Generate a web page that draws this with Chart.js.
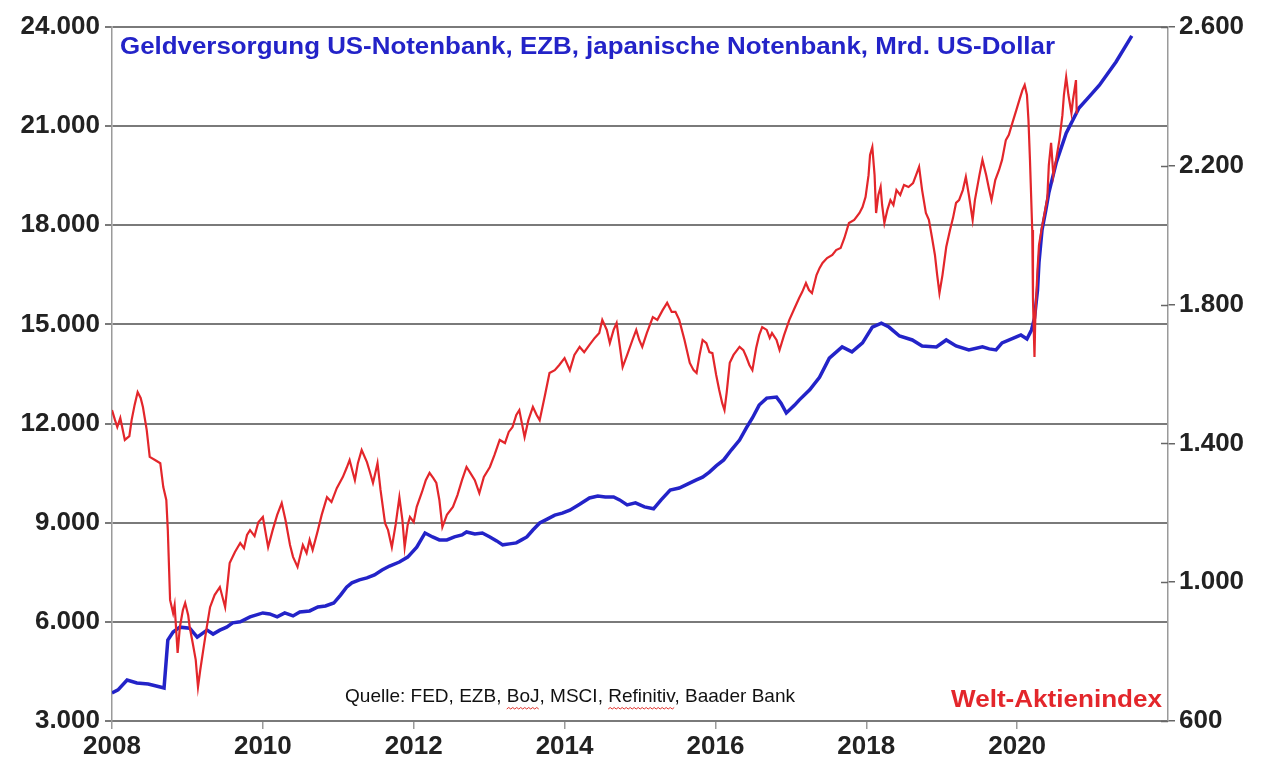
<!DOCTYPE html>
<html>
<head>
<meta charset="utf-8">
<script src="https://cdn.jsdelivr.net/npm/chart.js@4.4.1/dist/chart.umd.min.js"></script>
<style>
  html, body { margin: 0; padding: 0; background: #fff; }
  canvas { display: block; }
</style>
</head>
<body>
<canvas id="chart" width="1270" height="766"></canvas>
<script>
// Geldversorgung (linke Achse, Mrd. US-Dollar)
var moneyYears = [
  2008.00, 2008.08, 2008.20, 2008.33, 2008.48, 2008.64, 2008.69, 2008.74, 2008.81, 2008.90,
  2009.03, 2009.13, 2009.26, 2009.34, 2009.43, 2009.52, 2009.60, 2009.70, 2009.83, 2010.00,
  2010.09, 2010.19, 2010.29, 2010.40, 2010.49, 2010.62, 2010.73, 2010.83, 2010.94, 2011.03,
  2011.11, 2011.18, 2011.28, 2011.38, 2011.48, 2011.58, 2011.68, 2011.81, 2011.92, 2012.04,
  2012.15, 2012.25, 2012.34, 2012.44, 2012.54, 2012.64, 2012.70, 2012.81, 2012.91, 2013.01,
  2013.10, 2013.18, 2013.27, 2013.36, 2013.43, 2013.50, 2013.58, 2013.67, 2013.77, 2013.87,
  2013.97, 2014.07, 2014.20, 2014.33, 2014.44, 2014.54, 2014.65, 2014.73, 2014.83, 2014.94,
  2015.06, 2015.18, 2015.28, 2015.40, 2015.52, 2015.63, 2015.74, 2015.83, 2015.92, 2016.01,
  2016.11, 2016.21, 2016.32, 2016.41, 2016.49, 2016.58, 2016.68, 2016.81, 2016.87, 2016.94,
  2017.05, 2017.11, 2017.25, 2017.38, 2017.51, 2017.68, 2017.81, 2017.95, 2018.08, 2018.20,
  2018.30, 2018.44, 2018.61, 2018.74, 2018.93, 2019.06, 2019.19, 2019.36, 2019.54, 2019.63,
  2019.72, 2019.80, 2019.99, 2020.05, 2020.13, 2020.19, 2020.23, 2020.27, 2020.29, 2020.33,
  2020.38, 2020.42, 2020.52, 2020.65, 2020.82, 2020.95, 2021.09, 2021.31, 2021.52
];
var moneyValues = [
  3850, 3940, 4240, 4150, 4120, 4030, 4000, 5450, 5690, 5840,
  5810, 5540, 5750, 5630, 5750, 5840, 5970, 6000, 6150, 6270,
  6240, 6150, 6270, 6180, 6300, 6330, 6450, 6480, 6570, 6810,
  7050, 7180, 7270, 7330, 7420, 7570, 7690, 7810, 7960, 8260,
  8690, 8570, 8480, 8480, 8570, 8630, 8720, 8660, 8690, 8570,
  8450, 8330, 8360, 8390, 8480, 8570, 8780, 8990, 9110, 9230,
  9290, 9380, 9560, 9750, 9810, 9780, 9780, 9690, 9540, 9600,
  9480, 9420, 9690, 9990, 10050, 10170, 10290, 10380, 10530, 10720,
  10900, 11200, 11500, 11870, 12170, 12560, 12770, 12800, 12620, 12320,
  12560, 12710, 13020, 13400, 13980, 14320, 14170, 14440, 14920, 15040,
  14920, 14650, 14530, 14350, 14320, 14530, 14350, 14230, 14320, 14260,
  14230, 14440, 14620, 14680, 14560, 14830, 15190, 16040, 16890, 17860,
  18460, 18980, 19910, 20790, 21550, 21880, 22240, 22940, 23730
];

// Welt-Aktienindex (rechte Achse)
var stockYears = [
  2008.00, 2008.04, 2008.07, 2008.11, 2008.17, 2008.23, 2008.26, 2008.30, 2008.34, 2008.38,
  2008.41, 2008.46, 2008.50, 2008.57, 2008.64, 2008.68, 2008.72, 2008.74, 2008.77, 2008.81,
  2008.83, 2008.87, 2008.90, 2008.94, 2008.97, 2009.01, 2009.03, 2009.07, 2009.11, 2009.14,
  2009.17, 2009.21, 2009.25, 2009.30, 2009.36, 2009.43, 2009.50, 2009.56, 2009.63, 2009.70,
  2009.75, 2009.79, 2009.83, 2009.89, 2009.94, 2010.00, 2010.07, 2010.13, 2010.19, 2010.25,
  2010.30, 2010.36, 2010.40, 2010.46, 2010.53, 2010.58, 2010.62, 2010.66, 2010.73, 2010.78,
  2010.85, 2010.91, 2010.98, 2011.06, 2011.11, 2011.15, 2011.22, 2011.26, 2011.31, 2011.38,
  2011.42, 2011.46, 2011.50, 2011.52, 2011.56, 2011.62, 2011.66, 2011.71, 2011.76, 2011.81,
  2011.85, 2011.88, 2011.92, 2011.95, 2012.00, 2012.04, 2012.11, 2012.16, 2012.21, 2012.26,
  2012.30, 2012.34, 2012.38, 2012.44, 2012.52, 2012.58, 2012.64, 2012.70, 2012.75, 2012.81,
  2012.87, 2012.93, 2013.01, 2013.07, 2013.14, 2013.21, 2013.26, 2013.31, 2013.36, 2013.40,
  2013.47, 2013.52, 2013.58, 2013.63, 2013.67, 2013.74, 2013.80, 2013.87, 2013.93, 2014.00,
  2014.07, 2014.13, 2014.20, 2014.26, 2014.33, 2014.40, 2014.46, 2014.50, 2014.56, 2014.60,
  2014.65, 2014.69, 2014.73, 2014.77, 2014.83, 2014.90, 2014.95, 2014.99, 2015.03, 2015.09,
  2015.17, 2015.23, 2015.30, 2015.36, 2015.42, 2015.47, 2015.52, 2015.59, 2015.66, 2015.71,
  2015.75, 2015.79, 2015.83, 2015.88, 2015.92, 2015.96, 2016.01, 2016.05, 2016.09, 2016.12,
  2016.15, 2016.19, 2016.24, 2016.32, 2016.37, 2016.41, 2016.45, 2016.49, 2016.54, 2016.58,
  2016.62, 2016.68, 2016.72, 2016.75, 2016.81, 2016.85, 2016.91, 2016.98, 2017.05, 2017.11,
  2017.15, 2017.20, 2017.24, 2017.28, 2017.34, 2017.38, 2017.42, 2017.48, 2017.55, 2017.60,
  2017.66, 2017.71, 2017.77, 2017.84, 2017.91, 2017.95, 2017.99, 2018.03, 2018.05, 2018.08,
  2018.11, 2018.13, 2018.16, 2018.19, 2018.21, 2018.24, 2018.28, 2018.32, 2018.36, 2018.40,
  2018.45, 2018.50, 2018.56, 2018.62, 2018.66, 2018.70, 2018.74, 2018.79, 2018.83, 2018.87,
  2018.91, 2018.94, 2018.97, 2019.01, 2019.06, 2019.11, 2019.15, 2019.19, 2019.23, 2019.28,
  2019.32, 2019.36, 2019.41, 2019.44, 2019.50, 2019.54, 2019.59, 2019.63, 2019.66, 2019.71,
  2019.76, 2019.80, 2019.85, 2019.89, 2019.94, 2019.99, 2020.03, 2020.07, 2020.10, 2020.13,
  2020.15, 2020.17, 2020.18, 2020.20, 2020.21, 2020.23, 2020.24, 2020.27, 2020.29, 2020.33,
  2020.36, 2020.40, 2020.42, 2020.45, 2020.48, 2020.52, 2020.56, 2020.60, 2020.62, 2020.65,
  2020.68, 2020.72, 2020.74, 2020.78, 2020.79
];
var stockValues = [
  1496, 1467, 1447, 1473, 1410, 1421, 1467, 1511, 1548, 1531,
  1505, 1439, 1361, 1352, 1343, 1274, 1237, 1150, 949, 911,
  934, 796, 871, 920, 940, 905, 871, 825, 776, 698,
  747, 805, 862, 928, 963, 986, 928, 1055, 1087, 1113,
  1098, 1136, 1150, 1133, 1173, 1188, 1101, 1150, 1194, 1228,
  1179, 1107, 1073, 1044, 1107, 1084, 1122, 1093, 1150, 1194,
  1245, 1231, 1271, 1303, 1329, 1352, 1294, 1343, 1381, 1346,
  1317, 1286, 1323, 1343, 1266, 1170, 1150, 1101, 1165, 1245,
  1179, 1101, 1165, 1188, 1173, 1217, 1260, 1294, 1315, 1300,
  1286, 1237, 1159, 1194, 1217, 1251, 1294, 1332, 1315, 1294,
  1257, 1303, 1332, 1366, 1410, 1401, 1433, 1447, 1482, 1496,
  1418, 1467, 1505, 1482, 1467, 1539, 1603, 1611, 1626, 1646,
  1611, 1655, 1678, 1663, 1684, 1704, 1718, 1756, 1727, 1689,
  1727, 1747, 1684, 1620, 1655, 1698, 1727, 1698, 1678, 1718,
  1764, 1756, 1784, 1805, 1779, 1779, 1756, 1698, 1632, 1611,
  1603, 1655, 1698, 1689, 1663, 1660, 1597, 1554, 1516, 1496,
  1548, 1632, 1655, 1678, 1669, 1649, 1626, 1611, 1675, 1712,
  1735, 1727, 1704, 1718, 1698, 1669, 1712, 1756, 1790, 1819,
  1836, 1862, 1842, 1833, 1885, 1905, 1920, 1934, 1943, 1957,
  1963, 1992, 2035, 2044, 2064, 2081, 2110, 2173, 2231, 2254,
  2173, 2064, 2116, 2139, 2087, 2035, 2073, 2101, 2087, 2130,
  2116, 2145, 2139, 2150, 2173, 2197, 2130, 2064, 2044, 1995,
  1943, 1885, 1833, 1885, 1966, 2015, 2050, 2093, 2101, 2130,
  2168, 2116, 2044, 2101, 2173, 2217, 2173, 2130, 2101, 2159,
  2188, 2217, 2274, 2289, 2326, 2361, 2390, 2418, 2433, 2404,
  2332, 2217, 2150, 2015, 1813, 1649, 1756, 1900, 1972, 2024,
  2058, 2107, 2202, 2266, 2173, 2222, 2274, 2346, 2404, 2456,
  2404, 2352, 2390, 2447, 2350
];

var leftTicks = [3000, 6000, 9000, 12000, 15000, 18000, 21000, 24000];
var rightTicks = [600, 1000, 1400, 1800, 2200, 2600];
var yearTicks = [2008, 2010, 2012, 2014, 2016, 2018, 2020];

var titleText = 'Geldversorgung US-Notenbank, EZB, japanische Notenbank, Mrd. US-Dollar';
var sourceText = 'Quelle: FED, EZB, BoJ, MSCI, Refinitiv, Baader Bank';
var stockLabel = 'Welt-Aktienindex';

var BLUE = '#2323c8';
var RED = '#e3262b';
var GRID = '#7a7a7a';
var AXIS = '#9a9a9a';
var TICK_FONT = { family: '"Liberation Sans", Arial, sans-serif', size: 26, weight: 'bold' };

function dotted(n) {
  return String(n).replace(/\B(?=(\d{3})+(?!\d))/g, '.');
}

function zip(xs, ys) {
  return xs.map(function (x, i) { return { x: x, y: ys[i] }; });
}

function stretchText(ctx, text, x, y, width) {
  var w = ctx.measureText(text).width;
  var k = width / w;
  ctx.save();
  ctx.translate(x, y);
  ctx.scale(k, 1);
  ctx.fillText(text, 0, 0);
  ctx.restore();
  return k;
}

function squiggle(ctx, x0, x1, y) {
  ctx.beginPath();
  var up = true;
  ctx.moveTo(x0, y);
  for (var x = x0 + 2; x <= x1; x += 2) {
    ctx.lineTo(x, up ? y - 1.5 : y);
    up = !up;
  }
  ctx.stroke();
}

var notesPlugin = {
  id: 'notes',
  afterDraw: function (chart) {
    var ctx = chart.ctx;
    var area = chart.chartArea;
    var y1 = chart.scales.y1;

    // kleine Striche nach innen an der rechten Achse
    ctx.save();
    ctx.strokeStyle = '#666';
    ctx.lineWidth = 1.5;
    rightTicks.forEach(function (v) {
      var py = Math.round(y1.getPixelForValue(v)) + 0.5;
      ctx.beginPath();
      ctx.moveTo(area.right - 7, py);
      ctx.lineTo(area.right, py);
      ctx.stroke();
    });
    ctx.restore();

    ctx.save();
    ctx.textBaseline = 'middle';
    ctx.textAlign = 'left';

    ctx.fillStyle = BLUE;
    ctx.font = 'bold 23px "Liberation Sans", Arial, sans-serif';
    stretchText(ctx, titleText, 120, 48, 935);

    ctx.fillStyle = RED;
    ctx.font = 'bold 23px "Liberation Sans", Arial, sans-serif';
    stretchText(ctx, stockLabel, 951, 701, 211);

    ctx.fillStyle = '#111';
    ctx.font = '19px "Liberation Sans", Arial, sans-serif';
    var srcX = 345;
    var k = stretchText(ctx, sourceText, srcX, 697, 450);

    ctx.strokeStyle = '#e0302a';
    ctx.lineWidth = 1;
    ['BoJ', 'Refinitiv'].forEach(function (word) {
      var i = sourceText.indexOf(word);
      var a = srcX + ctx.measureText(sourceText.slice(0, i)).width * k;
      var b = a + ctx.measureText(word).width * k;
      squiggle(ctx, a, b, 709);
    });
    ctx.restore();
  }
};

new Chart(document.getElementById('chart'), {
  type: 'line',
  data: {
    datasets: [
      {
        label: stockLabel,
        data: zip(stockYears, stockValues),
        yAxisID: 'y1',
        borderColor: RED,
        borderWidth: 2.2,
        pointRadius: 0,
        tension: 0,
        order: 0
      },
      {
        label: 'Geldversorgung',
        data: zip(moneyYears, moneyValues),
        yAxisID: 'y',
        borderColor: BLUE,
        borderWidth: 3.5,
        pointRadius: 0,
        tension: 0,
        order: 1
      }
    ]
  },
  options: {
    responsive: false,
    animation: false,
    devicePixelRatio: 1,
    layout: { padding: { top: 27, left: 0, right: 0, bottom: 0 } },
    plugins: {
      legend: { display: false },
      tooltip: { enabled: false }
    },
    scales: {
      x: {
        type: 'linear',
        min: 2008,
        max: 2022,
        afterBuildTicks: function (s) {
          s.ticks = yearTicks.map(function (v) { return { value: v }; });
        },
        afterFit: function (s) { s.height = 45; },
        ticks: {
          color: '#222',
          font: TICK_FONT,
          padding: 2,
          maxRotation: 0,
          callback: function (v) { return String(v); }
        },
        grid: { drawOnChartArea: false, color: AXIS, lineWidth: 1.5, tickLength: 8 },
        border: { color: GRID, width: 2 }
      },
      y: {
        position: 'left',
        min: 3000,
        max: 24000,
        afterBuildTicks: function (s) {
          s.ticks = leftTicks.map(function (v) { return { value: v }; });
        },
        afterFit: function (s) { s.width = 112; },
        ticks: {
          color: '#222',
          font: TICK_FONT,
          padding: 5,
          callback: function (v) { return dotted(v); }
        },
        grid: { color: GRID, lineWidth: 2, tickLength: 7 },
        border: { color: AXIS, width: 1.5 }
      },
      y1: {
        position: 'right',
        min: 600,
        max: 2600,
        afterBuildTicks: function (s) {
          s.ticks = rightTicks.map(function (v) { return { value: v }; });
        },
        afterFit: function (s) { s.width = 102; },
        ticks: {
          color: '#222',
          font: TICK_FONT,
          padding: 4,
          callback: function (v) { return dotted(v); }
        },
        grid: { drawOnChartArea: false, color: '#666', lineWidth: 1.5, tickLength: 7 },
        border: { color: AXIS, width: 1.5 }
      }
    }
  },
  plugins: [notesPlugin]
});
</script>
</body>
</html>
